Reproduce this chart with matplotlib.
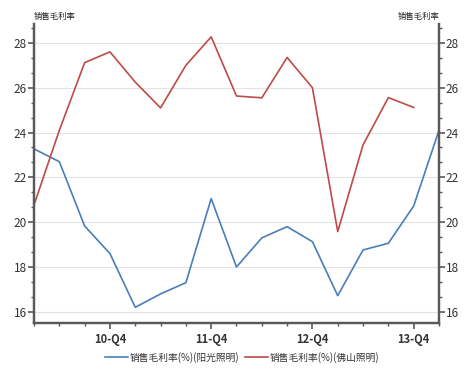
import matplotlib
matplotlib.use("Agg")
import matplotlib.pyplot as plt
from matplotlib.ticker import MultipleLocator, AutoMinorLocator, FixedLocator

plt.rcParams['font.family'] = ['Noto Sans CJK SC', 'DejaVu Sans']

quarters = ["10-Q1","10-Q2","10-Q3","10-Q4","11-Q1","11-Q2","11-Q3","11-Q4",
            "12-Q1","12-Q2","12-Q3","12-Q4","13-Q1","13-Q2","13-Q3","13-Q4","14-Q1"]
yangguang = [23.27, 22.7, 19.83, 18.6, 16.2, 16.8, 17.3, 21.05, 18.0, 19.3,
             19.8, 19.13, 16.72, 18.76, 19.06, 20.72, 24.1]
foshan = [20.77, 24.1, 27.12, 27.6, 26.25, 25.1, 27.0, 28.27, 25.63, 25.55,
          27.35, 26.0, 19.58, 23.45, 25.56, 25.12]
tick_labels = ["10-Q4", "11-Q4", "12-Q4", "13-Q4"]
series_names = ["销售毛利率(%)(阳光照明)", "销售毛利率(%)(佛山照明)"]
axis_title = "销售毛利率"

blue = "#4a7ebb"
red = "#be4b48"
spine_c = "#595959"

fig = plt.figure(figsize=(4.66, 3.73), dpi=100)
ax = fig.add_axes([0.073, 0.134, 0.869, 0.802])
ax2 = ax.twinx()

x_y = list(range(len(yangguang)))
x_f = list(range(len(foshan)))
l1, = ax.plot(x_y, yangguang, color=blue, lw=1.2)
l2, = ax.plot(x_f, foshan, color=red, lw=1.2)

ylim = (15.5, 28.85)
for a in (ax, ax2):
    a.set_ylim(*ylim)
    a.yaxis.set_major_locator(MultipleLocator(2))
    a.yaxis.set_minor_locator(AutoMinorLocator(3))
    a.spines['top'].set_visible(False)
    for s in ('left', 'right', 'bottom'):
        a.spines[s].set_color(spine_c)
        a.spines[s].set_linewidth(1.6)
    a.tick_params(axis='y', which='major', length=4, width=1.2, color=spine_c,
                  labelsize=8.5, labelcolor="#333333", pad=1)
    a.tick_params(axis='y', which='minor', length=2.5, width=1.0, color=spine_c)

ax.set_xlim(0, len(yangguang) - 1)
idx = [quarters.index(t) for t in tick_labels]
ax.set_xticks(idx)
ax.set_xticklabels(tick_labels, fontsize=8, color="#333333", fontweight='bold')
ax.xaxis.set_minor_locator(FixedLocator(x_y))
ax.tick_params(axis='x', which='major', length=4, width=1.2, color=spine_c, pad=3)
ax.tick_params(axis='x', which='minor', length=2.5, width=1.0, color=spine_c)

ax.grid(axis='y', which='major', color="#e3e3e3", lw=0.8)
ax.set_axisbelow(True)

fig.text(0.073, 0.945, axis_title, fontsize=6, ha='left', va='bottom', color="#222222")
fig.text(0.944, 0.945, axis_title, fontsize=6, ha='right', va='bottom', color="#222222")

fig.legend([l1, l2], series_names, loc='center', bbox_to_anchor=(0.52, 0.042),
           ncol=2, frameon=False, fontsize=7, handlelength=2.3, columnspacing=0.6,
           handletextpad=0.2, labelcolor="#333333")

fig.savefig("out.png", dpi=100)
